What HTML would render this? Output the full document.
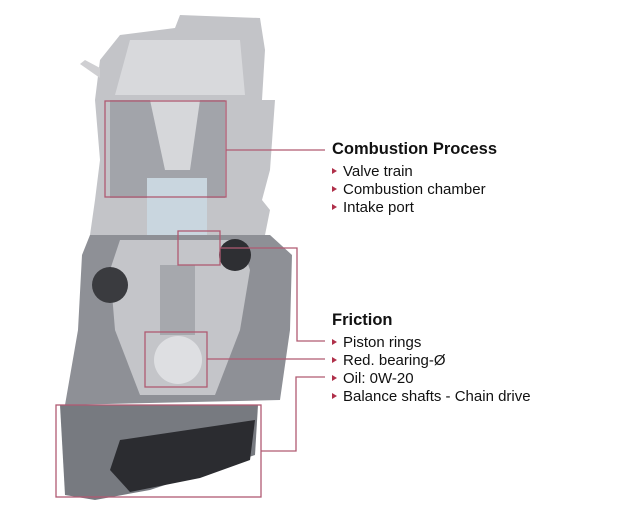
<!DOCTYPE html>
<html><head><style>
html,body{margin:0;padding:0;background:#fff;}
body{width:640px;height:523px;position:relative;overflow:hidden;font-family:"Liberation Sans","DejaVu Sans",sans-serif;}
.t{position:absolute;left:332px;color:#111;font-size:15px;white-space:nowrap}
.h{font-weight:bold;font-size:16.5px}
.b:before{content:"";display:inline-block;width:0;height:0;border-left:5px solid #b0304a;border-top:3.5px solid transparent;border-bottom:3.5px solid transparent;margin-right:6px;vertical-align:2px}
</style></head><body>
<svg width="640" height="523" style="position:absolute;left:0;top:0">
<path d="M100 60 L120 35 L175 28 L180 15 L260 18 L265 50 L262 100 L275 100 L270 170 L262 200 L270 210 L265 235 L90 235 L95 200 L100 160 L95 100 Z" fill="#c3c4c8"/>
<path d="M130 40 L240 40 L245 95 L115 95 Z" fill="#d8d9dc"/>
<path d="M110 100 L225 100 L225 198 L110 198 Z" fill="#a2a4aa"/>
<path d="M150 100 L200 100 L190 170 L165 170 Z" fill="#d6d7da"/>
<rect x="147" y="178" width="60" height="60" fill="#c9d6df"/>
<path d="M100 68 L85 60 L80 64 L100 78 Z" fill="#cfcfd2"/>
<path d="M90 235 L270 235 L292 255 L290 330 L280 400 L65 405 L78 330 L82 255 Z" fill="#8e9096"/>
<path d="M120 240 L240 240 L250 270 L240 330 L215 395 L140 395 L115 330 L110 270 Z" fill="#c4c5c9"/>
<circle cx="110" cy="285" r="18" fill="#3a3b3f"/>
<circle cx="235" cy="255" r="16" fill="#2e2f33"/>
<circle cx="178" cy="360" r="24" fill="#dedfe2"/>
<rect x="160" y="265" width="35" height="70" fill="#a6a8ad"/>
<path d="M60 405 L258 405 L255 455 L210 470 L150 490 L95 500 L65 495 Z" fill="#777a80"/>
<path d="M120 440 L255 420 L250 460 L200 478 L130 492 L110 470 Z" fill="#2b2c30"/>
<g fill="none" stroke="#b05a72" stroke-width="1.3">
<rect x="105" y="101" width="121" height="96"/>
<polyline points="226,150 325,150"/>
<rect x="178" y="231" width="42" height="34"/>
<polyline points="220,248 297,248 297,341 325,341"/>
<rect x="145" y="332" width="62" height="55"/>
<polyline points="207,359 325,359"/>
<rect x="56" y="405" width="205" height="92"/>
<polyline points="261,451 296,451 296,377 325,377"/>
</g>
</svg>
<div class="t h" style="top:140px">Combustion Process</div>
<div class="t b" style="top:163px">Valve train</div>
<div class="t b" style="top:181px">Combustion chamber</div>
<div class="t b" style="top:199px">Intake port</div>
<div class="t h" style="top:311px">Friction</div>
<div class="t b" style="top:334px">Piston rings</div>
<div class="t b" style="top:352px">Red. bearing-Ø</div>
<div class="t b" style="top:370px">Oil: 0W-20</div>
<div class="t b" style="top:388px">Balance shafts - Chain drive</div>
</body></html>
